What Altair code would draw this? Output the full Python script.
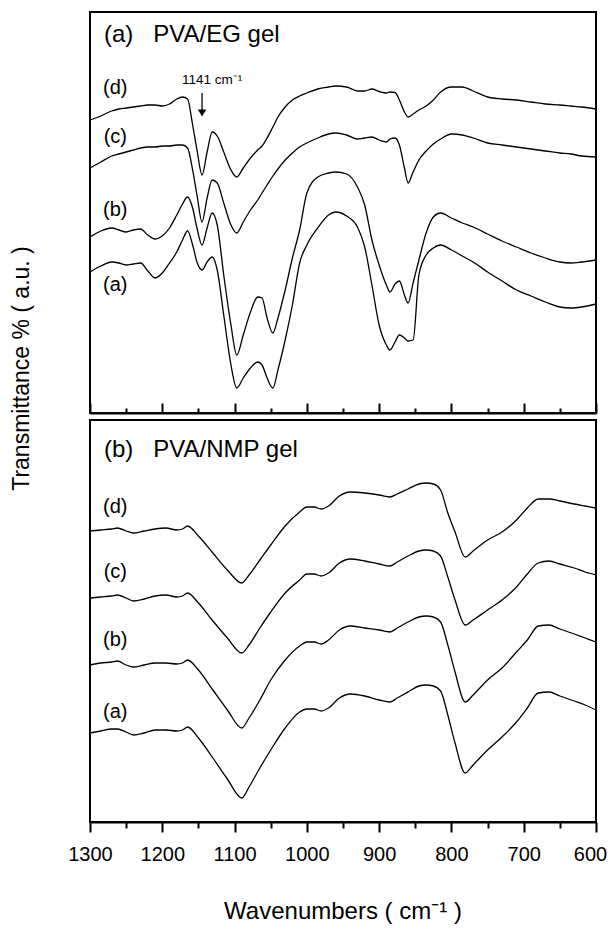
import altair as alt
import pandas as pd

# ---------------- data (transmittance in arbitrary units) ----------------
top_wn = [1300, 1285, 1270, 1260, 1250, 1240, 1230, 1220, 1210, 1200,
          1190, 1180, 1172, 1165, 1158, 1152, 1145, 1138, 1131, 1124,
          1115, 1105, 1097, 1088, 1078, 1068, 1062, 1055, 1047, 1040,
          1030, 1020, 1010, 1000, 985, 970, 960, 945, 930, 920,
          910, 900, 890, 885, 878, 872, 865, 860, 853, 845,
          835, 825, 815, 800, 785, 770, 750, 730, 710, 690,
          670, 650, 635, 620, 600]

top_d = [293, 297, 302, 304, 305, 306, 307, 308, 308, 307,
         309, 314, 316, 314, 288, 263, 238, 261, 281, 277,
         261, 243, 236, 245, 255, 263, 267, 275, 286, 296,
         306, 313, 317, 320, 324, 326, 327, 326, 322, 322,
         324, 321.5, 320, 321, 320.5, 313, 301, 296, 299, 303,
         307, 313, 321, 326, 326, 322, 316, 314, 313, 311,
         309, 308, 307, 306, 304]

top_c = [245, 251, 257, 259, 261, 263, 265, 266, 266, 267,
         267, 268, 268, 265, 243, 218, 191, 215, 233, 230,
         210, 188, 180, 191, 203, 213, 220, 228, 237, 244,
         253, 260, 266, 270, 275, 279, 280, 278, 274, 275,
         276, 273, 271, 274, 275, 268, 245, 230, 241, 253,
         262, 269, 274, 279, 278, 275, 270, 268, 266, 264,
         262, 260, 259, 257, 256]

top_b = [176, 182, 185, 183, 181, 183, 184, 178, 174, 177,
         185, 198, 209, 216, 205, 185, 168, 185, 200, 188,
         138, 88, 58, 78, 101, 116, 115, 95, 80, 95,
         123, 155, 183, 220, 236, 240, 241, 239, 226, 208,
         173, 148, 128, 121, 129, 132, 118, 110, 130, 153,
         180, 196, 200, 195, 190, 186, 179, 172, 166, 160,
         155, 151, 150, 151, 153]

top_a = [141, 147, 151, 150, 148, 149, 150, 142, 135, 140,
         150, 161, 173, 182, 168, 151, 143, 151, 156, 143,
         98, 48, 25, 35, 45, 51, 48, 35, 25, 43,
         73, 108, 150, 168, 185, 198, 201, 197, 186, 166,
         128, 88, 68, 63, 71, 78, 75, 72, 73, 138,
         158, 165, 168, 163, 157, 151, 141, 132, 123, 117,
         111, 106, 105, 106, 109]

bot_wn = [1300, 1285, 1270, 1262, 1250, 1240, 1225, 1210, 1195, 1180,
          1172, 1165, 1150, 1130, 1110, 1090, 1080, 1065, 1050, 1030,
          1010, 1000, 990, 980, 970, 955, 940, 920, 900, 885,
          875, 860, 845, 835, 825, 815, 805, 795, 781, 770,
          750, 730, 710, 695, 680, 665, 650, 630, 615, 600]

bot_d = [291, 292, 293, 294, 291, 289, 291, 293, 294, 292,
         293, 296, 286, 269, 252, 239, 247, 262, 277, 296,
         310, 315, 315, 313, 316, 326, 330, 329, 327, 325,
         328, 333, 338, 339, 338, 332, 309, 290, 265, 271,
         282, 290, 302, 314, 323, 323, 321, 318, 316, 314]

bot_c = [224, 225, 226, 227, 224, 221, 223, 226, 227, 225,
         226, 229, 219, 201, 184, 169, 177, 194, 210, 229,
         242, 248, 248, 246, 249, 259, 263, 261, 258, 256,
         260, 266, 271, 272, 271, 266, 245, 222, 197, 202,
         212, 222, 235, 248, 259, 261, 258, 254, 250, 247]

bot_b = [157, 159, 160, 161, 157, 155, 157, 159, 159, 158,
         159, 162, 152, 132, 112, 94, 104, 122, 142, 162,
         176, 180, 180, 178, 182, 192, 196, 194, 192, 190,
         194, 200, 205, 206, 205, 200, 177, 150, 120, 127,
         142, 154, 170, 182, 196, 197, 193, 188, 184, 180]

bot_a = [89, 91, 93, 93, 90, 87, 89, 92, 92, 91,
         92, 95, 84, 64, 43, 24, 35, 54, 72, 94,
         110, 113, 113, 111, 114, 124, 128, 126, 122, 120,
         124, 130, 136, 137, 136, 131, 107, 79, 49, 57,
         72, 85, 100, 114, 129, 130, 126, 121, 117, 112]

x_ticks = [1300, 1250, 1200, 1150, 1100, 1050, 1000, 950, 900,
           850, 800, 750, 700, 650, 600]

curve_names = ["(a)", "(b)", "(c)", "(d)"]
top_label_wn = [1265, 1265, 1265, 1265]
top_label_t = [128, 203, 276, 325]
bot_label_wn = [1265, 1265, 1265, 1265]
bot_label_t = [110, 182, 250, 315]

arrow_wn = [1145]
arrow_t_start = [320]
arrow_t_end = [300]
arrow_text = ["1141 cm\u207b\u00b9"]
arrow_text_wn = [1131]
arrow_text_t = [333]

NB = "\u00a0"
top_panel_title = "(a)" + NB * 3 + "PVA/EG gel"
bot_panel_title = "(b)" + NB * 3 + "PVA/NMP gel"
x_title = "Wavenumbers ( cm\u207b\u00b9 )"
y_title = "Transmittance % ( a.u. )"


def to_long(wn, series):
    rows = []
    for name, vals in series.items():
        for w, v in zip(wn, vals):
            rows.append({"wn": w, "T": v, "s": name})
    return pd.DataFrame(rows)


top_df = to_long(top_wn, {"(a)": top_a, "(b)": top_b, "(c)": top_c, "(d)": top_d})
bot_df = to_long(bot_wn, {"(a)": bot_a, "(b)": bot_b, "(c)": bot_c, "(d)": bot_d})

FONT = "Liberation Sans"
W = 506
H_TOP = 401
H_BOT = 402

xscale = alt.Scale(domain=[1300, 600], nice=False, zero=False)
tick_size_top = {"condition": {"test": "datum.value % 100 === 0", "value": 10}, "value": 5}
tick_size_bot = {"condition": {"test": "datum.value % 100 === 0", "value": 10}, "value": 6}
last_label_offset = {"condition": {"test": "datum.value === 600", "value": -6}, "value": 0}

top_xaxis = alt.Axis(orient="top", offset=-H_TOP, values=x_ticks, labels=False, title=None,
                     tickSize=tick_size_top, tickColor="black", tickWidth=2,
                     domainColor="black", domainWidth=2, grid=False)
top_yaxis = alt.Axis(title=y_title, labels=False, ticks=False, domain=False,
                     grid=False, titleFontSize=23, titleFont=FONT, titleFontWeight="normal",
                     titleColor="black", titleX=-69, titleY=356, titleAngle=270,
                     titleAlign="center", titleBaseline="middle")
bot_xaxis = alt.Axis(orient="bottom", values=x_ticks, format="d",
                     labelExpr="datum.value % 100 === 0 ? datum.label : ''",
                     labelFontSize=20, labelFont=FONT, labelColor="black", labelPadding=12,
                     labelOverlap=False, labelFlush=False, labelOffset=last_label_offset,
                     tickSize=tick_size_bot, tickColor="black", tickWidth=2,
                     domainColor="black", domainWidth=2, grid=False, title=None)

x_top = alt.X("wn:Q", scale=xscale, axis=top_xaxis)
y_top = alt.Y("T:Q", scale=alt.Scale(domain=[0, H_TOP], nice=False, zero=False), axis=top_yaxis)
x_bot = alt.X("wn:Q", scale=xscale, axis=bot_xaxis)
y_bot = alt.Y("T:Q", scale=alt.Scale(domain=[0, H_BOT], nice=False, zero=False), axis=None)

line_kw = dict(color="black", strokeWidth=1.3, interpolate="monotone")
lab_kw = dict(font=FONT, fontSize=20, color="black", align="center", baseline="middle")

# ---- top panel ----
top_lines = alt.Chart(top_df).mark_line(**line_kw).encode(x=x_top, y=y_top, detail="s:N")
top_labels = alt.Chart(pd.DataFrame({"wn": top_label_wn, "T": top_label_t, "lab": curve_names})
                       ).mark_text(**lab_kw).encode(x=x_top, y=y_top, text="lab:N")
top_title = alt.Chart(pd.DataFrame({"t": [top_panel_title]})).mark_text(
    font=FONT, fontSize=24, color="black", align="left", baseline="middle"
).encode(x=alt.value(14), y=alt.value(23), text="t:N")
arrow_df = pd.DataFrame({"wn": arrow_wn, "T": arrow_t_start, "T2": arrow_t_end})
arrow_line = alt.Chart(arrow_df).mark_rule(color="black", strokeWidth=1.3).encode(
    x=x_top, y=y_top, y2="T2:Q")
arrow_head = alt.Chart(arrow_df).mark_point(shape="triangle-down", filled=True, color="black",
                                            size=70, opacity=1).encode(
    x=x_top, y=alt.Y("T2:Q", scale=alt.Scale(domain=[0, H_TOP], nice=False, zero=False), axis=top_yaxis))
arrow_lab = alt.Chart(pd.DataFrame({"wn": arrow_text_wn, "T": arrow_text_t, "t": arrow_text})
                      ).mark_text(font=FONT, fontSize=13.5, color="black", align="center",
                                  baseline="middle").encode(x=x_top, y=y_top, text="t:N")

top = alt.layer(top_lines, top_labels, top_title, arrow_line, arrow_head, arrow_lab
                ).properties(width=W, height=H_TOP)

# ---- bottom panel ----
bot_lines = alt.Chart(bot_df).mark_line(**line_kw).encode(x=x_bot, y=y_bot, detail="s:N")
bot_labels = alt.Chart(pd.DataFrame({"wn": bot_label_wn, "T": bot_label_t, "lab": curve_names})
                       ).mark_text(**lab_kw).encode(x=x_bot, y=y_bot, text="lab:N")
bot_title = alt.Chart(pd.DataFrame({"t": [bot_panel_title]})).mark_text(
    font=FONT, fontSize=24, color="black", align="left", baseline="middle"
).encode(x=alt.value(14), y=alt.value(30), text="t:N")
bot_xtitle = alt.Chart(pd.DataFrame({"t": [x_title]})).mark_text(
    font=FONT, fontSize=24, color="black", align="center", baseline="bottom"
).encode(x=alt.value(W / 2), y=alt.value(H_BOT + 102), text="t:N")

bot = alt.layer(bot_lines, bot_labels, bot_title, bot_xtitle).properties(width=W, height=H_BOT)

chart = alt.vconcat(top, bot, spacing=7, bounds="flush").properties(
    padding={"left": 1, "top": 3, "right": 0, "bottom": 0},
    background="white",
).configure_view(stroke="black", strokeWidth=2)

chart.save("out.html", embed_options={"renderer": "svg", "actions": False})
